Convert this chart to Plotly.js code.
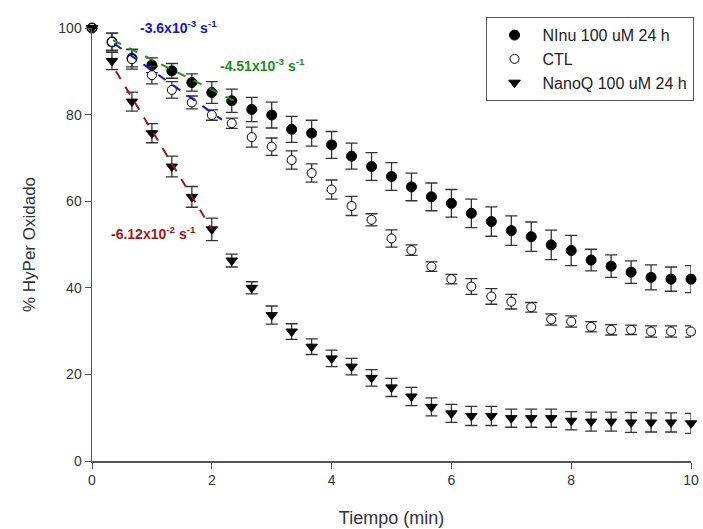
<!DOCTYPE html>
<html><head><meta charset="utf-8">
<script src="https://cdn.plot.ly/plotly-3.0.1.min.js"></script>
<style>body{margin:0;background:#fff}#c{width:703px;height:529px}</style>
</head><body><div id="c"></div>
<script>
const time = [0,0.333,0.667,1,1.333,1.667,2,2.333,2.667,3,3.333,3.667,4,4.333,4.667,5,5.333,5.667,6,6.333,6.667,7,7.333,7.667,8,8.333,8.667,9,9.333,9.667,10];
const ninu = [100,96.8,93,91.4,90.1,87.4,85.1,83.2,81.2,79.9,76.6,75.7,73.0,70.4,68.0,65.7,63.3,61.0,59.5,57.2,55.3,53.2,51.8,49.9,48.6,46.4,45.0,43.6,42.4,42.0,42.0];
const ninuErr = [0,2,2,1.7,1.7,2.0,2.5,2.7,2.8,3.0,3.0,3.0,3.1,3.0,3.2,3.2,3.2,3.2,3.2,3.3,3.4,3.4,3.4,3.4,3.5,2.5,2.6,2.6,2.9,2.8,3.1];
const ctl = [100,96.8,92.8,89.1,85.7,82.8,79.9,78.0,74.8,72.6,69.5,66.5,62.7,58.9,55.7,51.4,48.7,44.9,42.0,40.3,38.0,36.8,35.5,32.7,32.2,31.0,30.3,30.3,29.9,29.9,29.9];
const ctlErr = [0,2.0,2.3,2.0,1.9,1.5,1.2,1.2,2.3,2.0,2.1,2.1,2.2,2.2,1.4,2.0,1.2,1.1,1.1,1.8,1.8,1.7,1.1,1.3,1.3,1.2,1.2,1.1,1.3,1.3,1.3];
const nanoq = [100,92.4,83,75.7,68,61,53.5,46.3,40.0,33.7,29.9,26.4,23.7,21.8,19.2,17.0,14.9,12.5,11.0,10.4,10.4,9.9,9.9,9.9,9.3,9.1,9.1,8.9,8.9,8.9,8.7];
const nanoqErr = [0,2.0,2.2,2.2,2.4,2.4,2.6,1.5,1.4,2.1,1.8,1.8,1.9,1.9,1.9,2.1,2.1,2.1,2.1,2.2,2.2,2.1,2.1,2.1,2.1,2.2,2.2,2.3,2.2,2.2,2.3];
const fitGreenX = [0.35, 2.4], fitGreenY = [97.2, 83.0];
const fitBlueX = [0.37, 2.17], fitBlueY = [96.4, 78.8];
const fitRedX = [0.4, 2.0], fitRedY = [90.0, 53.5];
const labels = ['NInu 100 uM 24 h', 'CTL', 'NanoQ 100 uM 24 h'];

const eb = a => ({type:'data', array:a, visible:true, color:'#333', thickness:1.3, width:6});
const traces = [
  {x:time, y:ninu, error_y:eb(ninuErr), mode:'markers', name:labels[0], cliponaxis:false,
   marker:{symbol:'circle', size:10, color:'#000', line:{color:'#000', width:1}}},
  {x:time, y:ctl, error_y:eb(ctlErr), mode:'markers', name:labels[1], cliponaxis:false,
   marker:{symbol:'circle', size:9, color:'#fff', line:{color:'#000', width:1}}},
  {x:time, y:nanoq, error_y:eb(nanoqErr), mode:'markers', name:labels[2], cliponaxis:false,
   marker:{symbol:'triangle-down', size:10, color:'#000', line:{color:'#000', width:1}}},
  {x:fitGreenX, y:fitGreenY, mode:'lines', showlegend:false, line:{color:'#1e8c1e', width:2, dash:'dash'}},
  {x:fitBlueX, y:fitBlueY, mode:'lines', showlegend:false, line:{color:'#1414c8', width:2, dash:'dash'}},
  {x:fitRedX, y:fitRedY, mode:'lines', showlegend:false, line:{color:'#a01818', width:2, dash:'dash'}}
];
const layout = {
  width:703, height:529, margin:{l:92, r:12, t:28, b:68, autoexpand:false},
  paper_bgcolor:'#fff', plot_bgcolor:'#fff',
  font:{family:'Liberation Sans, Arial, sans-serif', size:14, color:'#333'},
  xaxis:{range:[0,10], dtick:2, showgrid:false, zeroline:false, showline:true, linecolor:'#555', linewidth:1.5,
    ticks:'outside', ticklen:6, tickcolor:'#555', tickfont:{size:14},
    title:{text:'Tiempo (min)', font:{size:18}, standoff:24}},
  yaxis:{range:[0,100], dtick:20, showgrid:false, zeroline:false, showline:true, linecolor:'#555', linewidth:1.5,
    ticks:'outside', ticklen:6, tickcolor:'#555', tickfont:{size:14},
    title:{text:'% HyPer Oxidado', font:{size:17}, standoff:18}},
  legend:{x:0.657, y:1.025, xanchor:'left', yanchor:'top', bordercolor:'#555', borderwidth:1,
    bgcolor:'#fff', font:{size:16, color:'#222'}, tracegroupgap:0, itemwidth:46},
  showlegend:true,
  annotations:[
    {x:1.45, y:100, yshift:1.5, xref:'x', yref:'y', text:'<b>-3.6x10<sup>-3</sup> s<sup>-1</sup></b>', showarrow:false, font:{size:14, color:'#1414c8'}},
    {x:2.84, y:91.4, xref:'x', yref:'y', text:'<b>-4.51x10<sup>-3</sup> s<sup>-1</sup></b>', showarrow:false, font:{size:14, color:'#1e8c1e'}},
    {x:1.03, y:52.7, xref:'x', yref:'y', text:'<b>-6.12x10<sup>-2</sup> s<sup>-1</sup></b>', showarrow:false, font:{size:14, color:'#a01818'}}
  ]
};
Plotly.newPlot('c', traces, layout, {displayModeBar:false, staticPlot:true});
</script></body></html>
